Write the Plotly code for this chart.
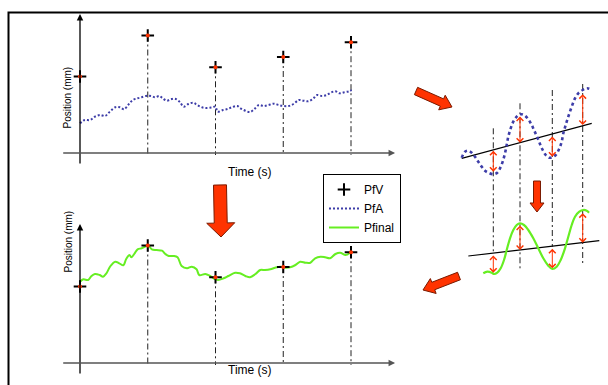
import math
import plotly.graph_objects as go

W, H = 608, 385

# ---------------- data ----------------
# left panels: time (s) and position (mm), arbitrary units of the sketch
pfv_t = [0, 1, 2, 3, 4]
pfv_pos = [7.65, 11.75, 8.57, 9.6, 11.08]

pfa_t = [0.00, 0.07, 0.15, 0.22, 0.30, 0.37, 0.44, 0.52, 0.59, 0.65, 0.71, 0.78, 0.85, 0.91, 0.99,
         1.05, 1.11, 1.17, 1.22, 1.28, 1.34, 1.40, 1.47, 1.53, 1.60, 1.67, 1.73, 1.80, 1.87, 1.95,
         2.00, 2.03, 2.11, 2.18, 2.24, 2.32, 2.37, 2.44, 2.51, 2.57, 2.64, 2.71, 2.78, 2.86, 2.93,
         3.00, 3.08, 3.15, 3.23, 3.30, 3.37, 3.44, 3.50, 3.57, 3.64, 3.70, 3.77, 3.83, 3.90, 3.97, 4.01]
pfa_pos = [2.97, 3.30, 3.30, 3.63, 3.80, 3.70, 4.13, 4.57, 4.57, 4.37, 4.80, 5.30, 5.47, 5.57, 5.73,
           5.70, 5.57, 5.70, 5.47, 5.23, 5.37, 5.43, 5.13, 4.63, 4.90, 5.03, 4.80, 4.57, 4.50, 4.57,
           4.63, 4.13, 4.30, 4.40, 4.57, 4.70, 4.47, 4.23, 4.10, 4.37, 4.80, 4.70, 4.80, 4.93, 4.80,
           4.70, 4.70, 4.90, 5.30, 5.23, 5.17, 5.43, 5.80, 5.70, 5.80, 6.03, 6.17, 5.97, 6.07, 6.17, 6.30]

pfinal_t = [0.00, 0.05, 0.12, 0.17, 0.22, 0.29, 0.34, 0.39, 0.45, 0.52, 0.58, 0.64, 0.68, 0.73, 0.76,
            0.80, 0.85, 0.91, 0.96, 1.00, 1.06, 1.13, 1.21, 1.26, 1.31, 1.38, 1.44, 1.50, 1.58, 1.65,
            1.72, 1.76, 1.85, 1.92, 2.00, 2.04, 2.12, 2.19, 2.29, 2.36, 2.44, 2.51, 2.59, 2.66, 2.73,
            2.81, 2.88, 2.96, 3.03, 3.10, 3.18, 3.25, 3.33, 3.40, 3.47, 3.55, 3.62, 3.69, 3.77, 3.84,
            3.92, 3.99]
pfinal_pos = [8.13, 8.37, 8.30, 8.70, 8.90, 8.80, 8.63, 8.97, 9.70, 10.13, 9.97, 9.77, 10.37, 10.80, 10.57,
              10.90, 11.37, 11.47, 11.63, 11.80, 11.37, 11.30, 11.23, 10.90, 10.70, 10.70, 10.57, 9.70, 9.47, 9.63,
              9.37, 8.80, 8.90, 8.70, 8.37, 8.30, 8.47, 8.70, 9.03, 8.97, 8.70, 8.57, 8.90, 9.30, 9.30,
              9.37, 9.53, 9.63, 9.53, 9.57, 9.80, 10.13, 10.03, 10.03, 10.47, 10.63, 10.57, 10.47, 10.90, 11.03,
              10.80, 11.03]

# right schematic (arbitrary units)
raw_x = [0.17, 0.5, 0.83, 1.17, 1.5, 1.83, 2.17, 2.5, 2.83, 3.33, 3.73, 4.0, 4.27, 4.5, 4.67, 4.83, 5.07,
         5.33, 5.67, 6.0, 6.4, 6.83, 7.17, 7.43, 7.73, 8.0, 8.27, 8.57, 8.9, 9.23, 9.57, 9.9, 10.17,
         10.33, 10.57, 10.83, 11.17, 11.5, 11.83, 12.27, 12.67, 12.93]
raw_y = [14.23, 14.83, 14.93, 14.73, 14.33, 13.83, 13.33, 12.93, 12.73, 12.57, 12.73, 13.17, 13.83, 14.67,
         15.5, 16.33, 17.17, 17.83, 18.33, 18.57, 18.5, 18.07, 17.5, 16.93, 16.27, 15.6, 15.0, 14.5, 14.23,
         14.27, 14.5, 15.07, 15.83, 16.67, 17.5, 18.33, 19.33, 20.17, 20.67, 21.0, 21.17, 21.13]
trend_top_x = [0.17, 13.17]
trend_top_y = [14.17, 17.67]

fin_x = [2.33, 2.73, 3.17, 3.4, 3.73, 4.07, 4.4, 4.67, 5.0, 5.33, 5.67, 6.0, 6.4, 6.83, 7.33, 7.83, 8.33,
         8.83, 9.23, 9.67, 10.07, 10.5, 10.83, 11.17, 11.5, 11.93, 12.33, 12.67, 12.9]
fin_y = [2.67, 2.83, 2.73, 2.6, 2.73, 3.17, 4.0, 5.0, 6.17, 7.0, 7.5, 7.67, 7.5, 7.0, 6.17, 5.17, 4.17,
         3.43, 3.1, 3.33, 4.0, 5.17, 6.33, 7.5, 8.33, 8.83, 9.0, 8.93, 8.73]
trend_bot_x = [0.83, 13.93]
trend_bot_y = [4.4, 5.93]

guide_x = [3.33, 6.0, 9.23, 12.27]
guide_top = [17.17, 19.67, 21.0, 21.6]
guide_bot = [4.83, 3.0, 5.33, 3.67]
amp_top_from = [15.07, 18.5, 16.5, 20.73]
amp_top_to = [12.83, 15.73, 14.33, 17.5]
amp_bot_from = [4.6, 7.6, 5.27, 8.83]
amp_bot_to = [2.73, 5.0, 3.17, 5.73]

# ---------------- helpers ----------------
def pxx(px):
    return px / W

def pxy(py):
    return 1 - py / H

RED = "#ff3300"
FONT = "Arial, Liberation Sans, sans-serif"
DASHDOT = "6px,3px,2px,3px"

fig = go.Figure()

def vlines(xs, tops, bottoms):
    X, Y = [], []
    for x, t, b in zip(xs, tops, bottoms):
        X += [x, x, None]
        Y += [t, b, None]
    return X, Y

# guide lines for the left panels
for xa, ya in [("x", "y"), ("x2", "y2")]:
    gx, gy = vlines(pfv_t[1:], pfv_pos[1:], [-0.2] * 4)
    fig.add_trace(go.Scatter(x=gx, y=gy, mode="lines", xaxis=xa, yaxis=ya,
                             line=dict(color="#222", width=1, dash=DASHDOT),
                             showlegend=False, hoverinfo="skip"))

# PfA (top panel)
fig.add_trace(go.Scatter(x=pfa_t, y=pfa_pos, mode="lines", name="PfA", xaxis="x", yaxis="y",
                         line=dict(color="#3d3da8", width=2, dash="2px,2px", shape="spline"),
                         legendrank=2))
# Pfinal (bottom panel)
fig.add_trace(go.Scatter(x=pfinal_t, y=pfinal_pos, mode="lines", name="Pfinal", xaxis="x2", yaxis="y2",
                         line=dict(color="#66ee22", width=2, shape="spline"),
                         legendrank=3))

# PfV markers in both panels
for k, (xa, ya) in enumerate([("x", "y"), ("x2", "y2")]):
    fig.add_trace(go.Scatter(x=pfv_t, y=pfv_pos, mode="markers", name="PfV", xaxis=xa, yaxis=ya,
                             marker=dict(symbol="cross-thin", size=9, line=dict(color="black", width=2)),
                             showlegend=(k == 0), legendrank=1))
    fig.add_trace(go.Scatter(x=pfv_t, y=pfv_pos, mode="markers", xaxis=xa, yaxis=ya,
                             marker=dict(symbol="circle", size=4, color=RED),
                             showlegend=False, hoverinfo="skip"))

# right schematic
gx, gy = vlines(guide_x, guide_top, guide_bot)
fig.add_trace(go.Scatter(x=gx, y=gy, mode="lines", xaxis="x3", yaxis="y3",
                         line=dict(color="#222", width=1, dash=DASHDOT),
                         showlegend=False, hoverinfo="skip"))
fig.add_trace(go.Scatter(x=trend_top_x, y=trend_top_y, mode="lines", xaxis="x3", yaxis="y3",
                         line=dict(color="black", width=1.2), showlegend=False, hoverinfo="skip"))
fig.add_trace(go.Scatter(x=trend_bot_x, y=trend_bot_y, mode="lines", xaxis="x3", yaxis="y3",
                         line=dict(color="black", width=1.2), showlegend=False, hoverinfo="skip"))
fig.add_trace(go.Scatter(x=raw_x, y=raw_y, mode="lines", xaxis="x3", yaxis="y3",
                         line=dict(color="#3d3da8", width=2.6, dash="3px,3px", shape="spline"),
                         showlegend=False, hoverinfo="skip"))
fig.add_trace(go.Scatter(x=fin_x, y=fin_y, mode="lines", xaxis="x3", yaxis="y3",
                         line=dict(color="#66ee22", width=2.2, shape="spline"),
                         showlegend=False, hoverinfo="skip"))

annotations = []
# double-headed amplitude arrows (open V heads)
for x, a, b in list(zip(guide_x, amp_top_from, amp_top_to)) + list(zip(guide_x, amp_bot_from, amp_bot_to)):
    annotations.append(dict(x=x, y=b, ax=x, ay=a, xref="x3", yref="y3", axref="x3", ayref="y3",
                            text="", showarrow=True, arrowside="end+start", arrowhead=4,
                            startarrowhead=4, arrowsize=1.3, startarrowsize=1.3,
                            arrowwidth=1, arrowcolor=RED))

# axes with arrowheads (left panels)
for xa, ya in [("x", "y"), ("x2", "y2")]:
    annotations.append(dict(x=0, y=13.9, ax=0, ay=-1.2, xref=xa, yref=ya, axref=xa, ayref=ya,
                            text="", showarrow=True, arrowhead=2, arrowsize=1, arrowwidth=1.3,
                            arrowcolor="black"))
    annotations.append(dict(x=4.65, y=0, ax=-0.27, ay=0, xref=xa, yref=ya, axref=xa, ayref=ya,
                            text="", showarrow=True, arrowhead=2, arrowsize=1, arrowwidth=1.3,
                            arrowcolor="#555"))

# axis titles
for cy in (65, 275):
    annotations.append(dict(x=pxx(60), y=pxy(cy), xref="paper", yref="paper", text="Position (mm)",
                            textangle=-90, showarrow=False, font=dict(family=FONT, size=10, color="black")))
for cy in (171.5, 379.0):
    annotations.append(dict(x=pxx(250), y=pxy(cy), xref="paper", yref="paper", text="Time (s)",
                            showarrow=False, font=dict(family=FONT, size=12, color="black")))

# block arrows
def block_arrow(x0, y0, x1, y1, sw, hw, hl):
    L = math.hypot(x1 - x0, y1 - y0)
    dx, dy = (x1 - x0) / L, (y1 - y0) / L
    nx, ny = -dy, dx
    bx, by = x0 + dx * (L - hl), y0 + dy * (L - hl)
    pts = [(x0 + nx * sw / 2, y0 + ny * sw / 2),
           (bx + nx * sw / 2, by + ny * sw / 2),
           (bx + nx * hw / 2, by + ny * hw / 2),
           (x1, y1),
           (bx - nx * hw / 2, by - ny * hw / 2),
           (bx - nx * sw / 2, by - ny * sw / 2),
           (x0 - nx * sw / 2, y0 - ny * sw / 2)]
    path = "M " + " L ".join(f"{pxx(px):.5f},{pxy(py):.5f}" for px, py in pts) + " Z"
    return dict(type="path", path=path, xref="paper", yref="paper",
                fillcolor=RED, line=dict(color="#7a1a00", width=1))

shapes = [
    dict(type="rect", xref="paper", yref="paper", x0=pxx(8.5), y0=pxy(400), x1=pxx(620), y1=pxy(12.5),
         line=dict(color="black", width=2), fillcolor="rgba(0,0,0,0)"),
    block_arrow(220, 185, 221, 237, 13, 28, 14),
    block_arrow(537, 181, 537, 212, 7, 14, 9),
    block_arrow(416, 91, 452, 107, 8, 16, 11),
    block_arrow(459, 276, 423, 290, 8, 16, 11),
]

def axis(domain, rng):
    return dict(domain=domain, range=rng, visible=False, fixedrange=True)

fig.update_layout(
    width=W, height=H, autosize=False,
    margin=dict(l=0, r=0, t=0, b=0),
    paper_bgcolor="white", plot_bgcolor="white",
    font=dict(family=FONT, color="black"),
    xaxis=axis([pxx(55), pxx(400)], [-0.369, 4.723]),
    yaxis=axis([pxy(170), pxy(12)], [-1.7, 14.1]),
    xaxis2=axis([pxx(55), pxx(400)], [-0.369, 4.723]),
    yaxis2=axis([pxy(380), pxy(222)], [-1.7, 14.1]),
    xaxis3=axis([pxx(450), pxx(605)], [-1.0, 14.5]),
    yaxis3=axis([pxy(300), pxy(70)], [0, 23]),
    legend=dict(x=pxx(323), y=pxy(174), xanchor="left", yanchor="top",
                bordercolor="black", borderwidth=1, bgcolor="white",
                font=dict(family=FONT, size=12, color="black"), tracegroupgap=0,
                itemwidth=30),
    annotations=annotations,
    shapes=shapes,
)

fig.write_html("out.html",
               config={"displayModeBar": False, "staticPlot": False},
               post_script="document.body.style.margin='0px';document.body.style.padding='0px';"
                           "document.body.style.overflow='hidden';")
